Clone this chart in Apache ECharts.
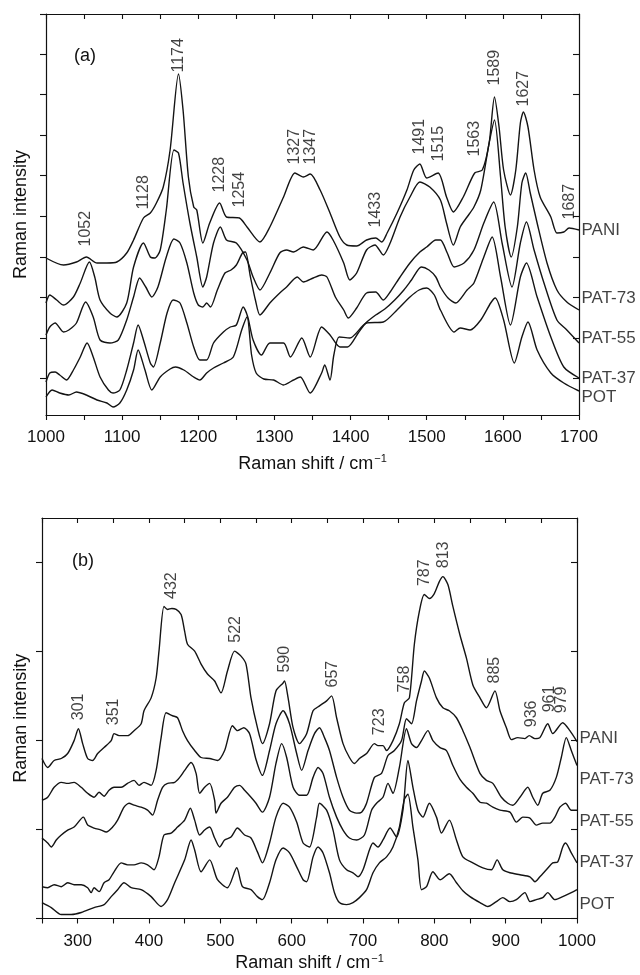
<!DOCTYPE html>
<html><head><meta charset="utf-8">
<script src="https://cdn.jsdelivr.net/npm/echarts@6/dist/echarts.min.js"></script>
<style>html,body{margin:0;padding:0;background:#fff}#c{width:640px;height:975px}</style>
</head><body><div id="c"></div>
<script>
// ---------- data (arbitrary intensity units, stacked spectra) ----------
const sampleNames = ['PANI', 'PAT-73', 'PAT-55', 'PAT-37', 'POT'];

// Panel (a): 1000-1700 cm-1
const PANI_A = [[1000,157],[1023,150],[1040,153],[1053,158],[1067,152],[1080,152],[1093,153],[1106,162],[1115,175],[1128,197],[1137,202],[1145,212],[1154,228],[1163,265],[1174,341],[1180,305],[1187,238],[1194,208],[1198,205],[1206,172],[1215,192],[1228,212],[1237,198],[1254,197],[1264,188],[1281,173],[1294,188],[1312,218],[1327,242],[1338,238],[1347,241],[1360,225],[1373,202],[1386,178],[1395,170],[1408,169],[1421,175],[1433,177],[1441,173],[1448,182],[1461,202],[1474,225],[1483,245],[1491,251],[1500,237],[1515,242],[1526,218],[1535,203],[1548,218],[1563,242],[1573,245],[1582,272],[1589,318],[1595,288],[1601,245],[1610,220],[1617,245],[1623,292],[1627,303],[1633,288],[1641,245],[1649,218],[1663,198],[1671,182],[1680,183],[1687,187],[1700,185]];
const PAT73_A = [[1000,112],[1005,120],[1014,115],[1023,110],[1036,118],[1045,132],[1057,153],[1064,138],[1071,115],[1084,102],[1093,98],[1106,112],[1115,148],[1128,172],[1137,158],[1143,157],[1150,165],[1158,205],[1168,265],[1174,262],[1180,232],[1189,192],[1198,158],[1206,128],[1211,138],[1220,172],[1229,188],[1237,175],[1250,172],[1264,155],[1272,138],[1281,125],[1294,142],[1307,162],[1316,165],[1325,163],[1338,168],[1351,165],[1369,183],[1377,175],[1391,152],[1399,135],[1408,142],[1421,165],[1432,170],[1443,160],[1452,172],[1465,198],[1478,218],[1491,233],[1504,228],[1518,215],[1526,192],[1535,170],[1544,188],[1553,198],[1562,208],[1571,225],[1582,272],[1589,295],[1597,238],[1603,188],[1611,158],[1619,188],[1625,232],[1630,242],[1636,222],[1645,192],[1658,152],[1671,125],[1684,113],[1700,105]];
const PAT55_A = [[1000,80],[1005,88],[1012,92],[1023,83],[1030,85],[1040,92],[1052,113],[1062,98],[1071,75],[1084,72],[1095,75],[1106,95],[1115,118],[1123,137],[1131,128],[1139,118],[1147,128],[1158,158],[1168,176],[1176,172],[1185,152],[1194,122],[1200,110],[1206,108],[1211,112],[1216,108],[1225,125],[1235,142],[1243,145],[1250,150],[1258,162],[1262,163],[1268,140],[1275,115],[1281,100],[1294,112],[1307,122],[1316,128],[1330,138],[1338,133],[1351,137],[1362,140],[1369,138],[1380,118],[1391,105],[1397,97],[1408,107],[1421,122],[1433,123],[1443,115],[1452,123],[1465,138],[1478,152],[1491,163],[1500,168],[1512,175],[1518,175],[1527,162],[1536,148],[1549,152],[1562,165],[1575,192],[1588,213],[1599,172],[1612,128],[1623,172],[1631,193],[1641,165],[1654,132],[1671,95],[1684,85],[1700,72]];
const PAT37_A = [[1000,33],[1005,42],[1012,43],[1018,40],[1027,35],[1036,45],[1045,58],[1054,72],[1062,58],[1071,38],[1082,25],[1088,22],[1097,25],[1106,45],[1115,72],[1121,90],[1128,75],[1137,52],[1141,48],[1150,72],[1159,102],[1167,115],[1176,112],[1185,92],[1194,68],[1202,55],[1211,55],[1220,72],[1233,83],[1242,88],[1250,90],[1259,108],[1265,98],[1272,75],[1283,60],[1294,72],[1312,72],[1321,58],[1336,77],[1347,58],[1362,88],[1373,80],[1386,68],[1396,68],[1410,82],[1420,92],[1433,100],[1445,106],[1458,115],[1470,125],[1480,135],[1493,148],[1503,145],[1512,138],[1518,128],[1528,117],[1538,112],[1553,125],[1562,132],[1575,158],[1586,178],[1597,138],[1610,90],[1623,138],[1631,152],[1645,118],[1663,78],[1680,48],[1700,37]];
const POT_A = [[1000,18],[1008,25],[1018,22],[1030,20],[1040,23],[1053,20],[1067,15],[1080,12],[1088,8],[1097,12],[1106,25],[1115,45],[1121,65],[1130,45],[1139,25],[1150,38],[1163,46],[1170,48],[1181,45],[1194,38],[1202,35],[1211,42],[1220,47],[1233,52],[1246,58],[1257,85],[1264,98],[1270,60],[1276,42],[1286,36],[1299,35],[1312,30],[1325,35],[1334,38],[1347,22],[1362,42],[1366,50],[1373,35],[1378,60],[1385,78],[1399,77],[1421,92],[1443,93],[1461,105],[1478,118],[1490,125],[1500,127],[1510,120],[1518,105],[1536,83],[1544,87],[1557,85],[1571,95],[1584,112],[1590,117],[1601,95],[1615,52],[1625,78],[1633,93],[1645,65],[1663,42],[1680,32],[1700,24]];

// Panel (b): 250-1000 cm-1
const PANI_B = [[250,161],[258,152],[267,159],[277,161],[286,166],[295,179],[301,191],[307,176],[314,161],[321,159],[328,166],[337,172],[347,179],[351,186],[358,184],[370,184],[379,189],[389,196],[393,209],[403,222],[410,242],[414,269],[421,314],[426,311],[432,312],[438,311],[445,306],[450,289],[454,276],[464,269],[473,256],[482,246],[492,239],[501,227],[510,249],[520,269],[529,264],[536,256],[543,222],[552,192],[559,176],[569,196],[578,229],[588,237],[590,239],[595,222],[602,192],[611,176],[621,186],[630,209],[639,214],[649,219],[656,224],[663,202],[672,176],[681,162],[688,156],[695,161],[705,166],[716,176],[721,174],[728,174],[733,169],[742,179],[751,196],[758,217],[765,222],[772,276],[779,309],[786,326],[793,322],[800,327],[807,339],[812,344],[819,336],[826,314],[836,285],[845,262],[854,235],[864,222],[873,212],[885,229],[892,209],[901,192],[908,180],[917,182],[927,181],[933,184],[941,181],[948,182],[959,196],[966,186],[980,197],[990,189],[1000,178]];
const PAT73_B = [[250,119],[258,122],[267,132],[277,137],[286,136],[295,137],[305,132],[314,126],[323,122],[330,127],[337,123],[344,129],[351,132],[361,132],[370,136],[379,139],[386,134],[393,137],[403,134],[410,149],[417,182],[424,207],[433,204],[440,202],[447,189],[454,179],[464,169],[473,162],[485,161],[496,159],[506,169],[517,194],[524,189],[533,192],[541,186],[550,160],[559,144],[569,169],[578,196],[588,209],[597,196],[607,166],[614,149],[623,169],[632,186],[639,192],[646,182],[653,169],[663,142],[672,122],[681,109],[691,106],[698,107],[705,116],[716,142],[726,146],[735,164],[744,169],[754,179],[761,201],[768,196],[775,219],[782,239],[786,249],[793,242],[803,222],[812,212],[821,209],[831,202],[840,189],[850,172],[864,146],[873,139],[882,136],[894,122],[903,116],[910,114],[920,122],[931,132],[938,122],[945,114],[952,126],[962,129],[971,142],[978,162],[985,182],[992,169],[1000,154]];
const PAT55_B = [[250,81],[258,76],[263,72],[270,79],[277,84],[286,89],[295,92],[308,102],[314,94],[323,91],[333,89],[340,87],[349,92],[356,99],[365,112],[372,116],[379,114],[389,112],[398,109],[405,104],[412,119],[419,132],[426,136],[436,137],[443,142],[450,149],[459,157],[466,146],[471,126],[478,132],[485,136],[492,119],[494,106],[501,116],[510,122],[520,132],[527,134],[534,129],[543,122],[550,116],[559,107],[569,122],[578,156],[586,176],[593,162],[602,132],[611,124],[621,124],[630,142],[637,152],[644,146],[653,122],[663,102],[672,89],[681,81],[691,79],[702,84],[712,109],[719,116],[728,122],[735,136],[742,126],[751,152],[761,191],[768,176],[775,172],[782,179],[791,189],[798,179],[808,172],[817,169],[826,154],[836,140],[845,132],[854,126],[864,117],[873,116],[882,112],[892,109],[906,107],[915,97],[924,102],[934,101],[943,94],[952,96],[962,96],[969,102],[976,112],[984,116],[992,109],[1000,109]];
const PAT37_B = [[250,32],[258,31],[267,34],[277,32],[286,36],[295,34],[305,34],[314,31],[319,26],[323,31],[330,27],[337,36],[344,39],[351,47],[361,56],[370,54],[379,54],[389,56],[398,54],[407,49],[414,62],[421,84],[431,86],[440,92],[450,99],[458,111],[464,99],[471,84],[478,89],[485,92],[492,81],[499,72],[506,79],[515,82],[524,91],[534,84],[543,81],[552,67],[559,56],[569,76],[578,102],[588,116],[597,112],[607,97],[616,76],[625,72],[635,102],[639,116],[649,109],[658,89],[667,59],[677,49],[686,46],[693,42],[700,49],[709,69],[714,76],[721,72],[728,79],[738,91],[747,82],[756,109],[763,159],[770,132],[777,109],[784,102],[793,116],[803,102],[810,86],[821,99],[831,79],[840,62],[854,56],[868,51],[880,49],[888,59],[896,49],[906,46],[920,44],[934,42],[941,37],[948,42],[957,49],[966,56],[973,57],[980,72],[984,76],[992,66],[1000,56]];
const POT_B = [[250,16],[263,11],[277,4],[291,4],[305,6],[323,11],[337,14],[347,22],[356,29],[365,36],[375,31],[389,29],[403,22],[417,12],[426,19],[436,36],[450,59],[459,79],[464,69],[473,47],[485,59],[496,39],[510,31],[523,51],[531,32],[543,29],[552,22],[559,19],[569,36],[578,59],[588,71],[597,66],[607,52],[616,39],[621,37],[630,62],[637,72],[644,66],[653,46],[660,26],[667,16],[677,14],[686,16],[695,21],[705,29],[714,46],[723,56],[733,62],[742,72],[751,92],[758,120],[763,125],[770,92],[777,59],[782,29],[789,32],[798,47],[808,39],[821,45],[831,36],[840,28],[850,22],[864,16],[875,12],[887,17],[896,21],[906,17],[915,19],[927,26],[934,17],[943,19],[952,21],[959,26],[969,19],[980,22],[992,26],[1000,29]];

// sample-name label heights at the right edge
const nameYA = [185, 117, 77, 37, 18];
const nameYB = [181, 140, 98, 57, 14];

// peak annotations: [wavenumber, height of label base]
const peaksA = [[1052,168],[1128,205],[1174,342],[1228,222],[1254,207],[1327,250],[1347,250],[1433,187],[1491,260],[1515,253],[1563,258],[1589,329],[1627,308],[1687,195]];
const peaksB = [[301,199],[351,194],[432,321],[522,277],[590,247],[657,232],[723,184],[758,227],[787,334],[813,352],[885,236],[936,192],[961,207],[979,206]];

// axis extents and tick values
const xRangeA = [1000, 1700];
const xRangeB = [250, 1000];
const yMaxA = 401, yMaxB = 403;
const yTicksA = [36.3, 76.9, 117.5, 158.1, 198.7, 239.3, 279.9, 320.5, 361.1, 401];
const yTicksB = [0, 89.5, 179, 268.5, 358];

// ---------- chart ----------
const FONT = '"Liberation Sans", Arial, Helvetica, sans-serif';
const INK = '#111';
const chart = echarts.init(document.getElementById('c'), null, {renderer: 'canvas'});

function xAx(grid, range, top) {
  return {
    gridIndex: grid, type: 'value', min: range[0], max: range[1], interval: 50,
    position: top ? 'top' : 'bottom',
    axisLine: {show: true, onZero: false, lineStyle: {color: INK, width: 1.2}},
    axisTick: {show: true, inside: !!top, length: 5, lineStyle: {color: INK, width: 1.1}},
    axisLabel: top ? {show: false} : {show: true, margin: 14, fontSize: 17, color: INK, fontFamily: FONT,
      formatter: v => (v % 100 === 0 ? String(v) : '')},
    splitLine: {show: false},
    name: top ? '' : '{t|Raman shift / cm}{s|−1}',
    nameLocation: 'middle', nameGap: grid === 0 ? 39 : 35,
    nameTextStyle: {rich: {
      t: {fontSize: 18, fontFamily: FONT, color: INK, lineHeight: 20},
      s: {fontSize: 11, fontFamily: FONT, color: INK, padding: [0, 0, 10, 1], lineHeight: 20}
    }}
  };
}
function yAx(grid, max, ticks, right) {
  return {
    gridIndex: grid, type: 'value', min: 0, max: max,
    position: right ? 'right' : 'left',
    axisLine: {show: true, onZero: false, lineStyle: {color: INK, width: 1.2}},
    // right-hand mirror ticks point into the plot
    axisTick: {show: true, inside: false, length: right ? -6 : 6, customValues: ticks, lineStyle: {color: INK, width: 1.1}},
    axisLabel: {show: false},
    splitLine: {show: false},
    name: right ? '' : 'Raman intensity',
    nameLocation: 'middle', nameGap: grid === 0 ? 16 : 12,
    nameTextStyle: {fontSize: 18, fontFamily: FONT, color: INK}
  };
}

const curvesA = [PANI_A, PAT73_A, PAT55_A, PAT37_A, POT_A];
const curvesB = [PANI_B, PAT73_B, PAT55_B, PAT37_B, POT_B];

const series = [];
function addPanel(curves, xi, yi, names, nameY, xMax, peaks) {
  curves.forEach(d => series.push({
    type: 'line', xAxisIndex: xi, yAxisIndex: yi, data: d, showSymbol: false, symbol: 'none',
    smooth: 0.25, lineStyle: {color: '#141414', width: 1.4}, silent: true, z: 3
  }));
  series.push({
    type: 'scatter', xAxisIndex: xi, yAxisIndex: yi, clip: false, silent: true,
    symbolSize: 1, itemStyle: {color: 'rgba(0,0,0,0)'},
    data: names.map((n, i) => ({name: n, value: [xMax, nameY[i]]})),
    label: {show: true, position: 'right', distance: 2, formatter: '{b}', fontSize: 17, color: INK, fontFamily: FONT}
  });
  series.push({
    type: 'scatter', xAxisIndex: xi, yAxisIndex: yi, clip: false, silent: true,
    symbolSize: 1, itemStyle: {color: 'rgba(0,0,0,0)'},
    data: peaks.map(p => ({value: p})),
    label: {show: true, position: 'top', distance: 0, rotate: 90, align: 'left', verticalAlign: 'middle',
      formatter: p => String(p.value[0]), fontSize: 16, color: INK, fontFamily: FONT}
  });
}
addPanel(curvesA, 0, 0, sampleNames, nameYA, xRangeA[1], peaksA);
addPanel(curvesB, 2, 2, sampleNames, nameYB, xRangeB[1], peaksB);

chart.setOption({
  animation: false,
  backgroundColor: '#fff',
  grid: [
    {left: 46, top: 14, width: 533, height: 401},
    {left: 42, top: 518, width: 535, height: 403}
  ],
  xAxis: [xAx(0, xRangeA, false), xAx(0, xRangeA, true), xAx(1, xRangeB, false), xAx(1, xRangeB, true)],
  yAxis: [yAx(0, yMaxA, yTicksA, false), yAx(0, yMaxA, yTicksA, true), yAx(1, yMaxB, yTicksB, false), yAx(1, yMaxB, yTicksB, true)],
  graphic: [
    {type: 'text', x: 85, y: 56, style: {text: '(a)', fontSize: 18, fontFamily: FONT, fill: INK, align: 'center', verticalAlign: 'middle'}},
    {type: 'text', x: 83, y: 561, style: {text: '(b)', fontSize: 18, fontFamily: FONT, fill: INK, align: 'center', verticalAlign: 'middle'}}
  ],
  series: series
});
</script></body></html>
